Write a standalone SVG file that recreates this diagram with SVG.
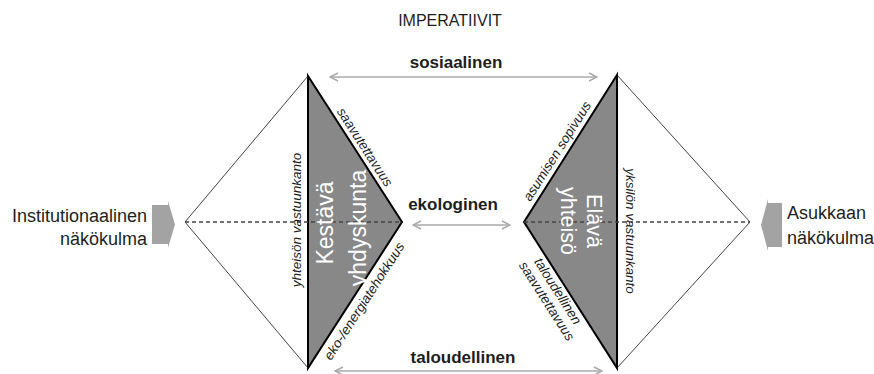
<svg xmlns="http://www.w3.org/2000/svg" width="874" height="374" viewBox="0 0 874 374">
<defs>
<style>
text{font-family:"Liberation Sans",Arial,sans-serif;fill:#1e1e1e}
.title{font-size:16px}
.imp{font-size:17px;font-weight:bold;text-anchor:middle}
.side{font-size:18px}
.big{font-size:23px;fill:#fff;text-anchor:middle}
.big2{font-size:21.5px;fill:#fff;text-anchor:middle}
.lab{font-size:13.5px;font-style:italic;text-anchor:middle}
.tri{fill:#888;stroke:#000;stroke-width:2;stroke-linejoin:miter}
.half{fill:none;stroke:#444;stroke-width:1}
.dash{stroke:#444;stroke-width:1.3;stroke-dasharray:4 3}
.conn{stroke:#aaa;stroke-width:1.5;fill:none;marker-start:url(#ah);marker-end:url(#ah)}
.blk{fill:#a3a3a3}
</style>
<marker id="ah" viewBox="0 0 10 10" refX="9" refY="5" markerWidth="10" markerHeight="10" markerUnits="userSpaceOnUse" orient="auto-start-reverse">
<path d="M1,1 L9,5 L1,9" fill="none" stroke="#aaa" stroke-width="1.5"/>
</marker>
</defs>
<rect width="874" height="374" fill="#fff"/>

<g id="title">
<text class="title" x="450" y="26" text-anchor="middle">IMPERATIIVIT</text>
</g>

<g id="connectors">
<line class="conn" x1="330" y1="77" x2="597" y2="77"/>
<line class="conn" x1="413" y1="225" x2="510" y2="225"/>
<line class="conn" x1="335" y1="371" x2="602" y2="371"/>
<text class="imp" x="456" y="68">sosiaalinen</text>
<text class="imp" x="453" y="210">ekologinen</text>
<text class="imp" x="463" y="363">taloudellinen</text>
</g>

<g id="left-view">
<path class="blk" d="M152,205 H168 V201 L175,224.5 L168,248 V244 H152 Z"/>
<text class="side" x="147" y="222" text-anchor="end">Institutionaalinen</text>
<text class="side" x="147" y="245" text-anchor="end">näkökulma</text>
</g>

<g id="right-view">
<path class="blk" d="M782,203 H768 V199 L761,225 L768,251 V247 H782 Z"/>
<text class="side" x="787" y="219">Asukkaan</text>
<text class="side" x="787" y="244">näkökulma</text>
</g>

<g id="kestava-yhdyskunta">
<polyline class="half" points="308,76 185,222 308,368"/>
<polygon class="tri" points="308,76 402,222 308,368"/>
<line class="dash" x1="185" y1="222" x2="402" y2="222"/>
<text class="big" transform="translate(333,223) rotate(-90)">Kestävä</text>
<text class="big" transform="translate(366,228) rotate(-90)">yhdyskunta</text>
<text class="lab" transform="translate(301,220) rotate(-90)">yhteisön vastuunkanto</text>
<text class="lab" dy="0.35em" transform="translate(365,147) rotate(57.2)">saavutettavuus</text>
<text class="lab" dy="0.35em" transform="translate(364,301) rotate(-57.2)">eko-/energiatehokkuus</text>
</g>

<g id="elava-yhteiso">
<polyline class="half" points="617,75 750,222 617,368"/>
<polygon class="tri" points="617,75 524,222 617,368"/>
<line class="dash" x1="524" y1="222" x2="750" y2="222"/>
<text class="big2" transform="translate(587,221) rotate(90)">Elävä</text>
<text class="big2" transform="translate(561,221) rotate(90)">yhteisö</text>
<text class="lab" transform="translate(626,231) rotate(90)">yksilön vastuunkanto</text>
<text class="lab" dy="0.35em" transform="translate(557,151) rotate(-57.7)">asumisen sopivuus</text>
<text class="lab" dy="0.35em" transform="translate(558,291) rotate(57.5)">taloudellinen</text>
<text class="lab" dy="0.35em" transform="translate(547,301) rotate(57.5)">saavutettavuus</text>
</g>
</svg>
